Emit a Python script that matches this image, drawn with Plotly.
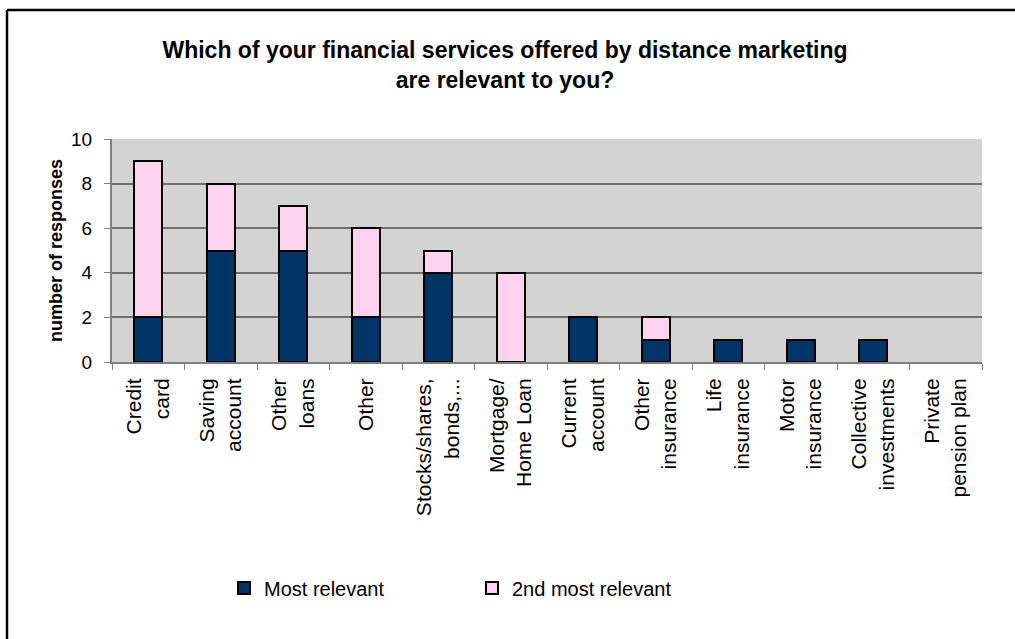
import plotly.graph_objects as go

categories = [
    "Credit<br>card", "Saving<br>account", "Other<br>loans", "Other",
    "Stocks/shares,<br>bonds,...", "Mortgage/<br>Home Loan", "Current<br>account",
    "Other<br>insurance", "Life<br>insurance", "Motor<br>insurance",
    "Collective<br>investments", "Private<br>pension plan",
]
most_relevant = [2, 5, 5, 2, 4, 0, 2, 1, 1, 1, 1, 0]
second_most_relevant = [7, 3, 2, 4, 1, 4, 0, 1, 0, 0, 0, 0]

FONT = "Liberation Sans, Arial, sans-serif"
NAVY = "#003366"
PINK = "#FFD2F0"


def outline(values):
    # empty segments get no outline
    return [2 if v else 0 for v in values]


fig = go.Figure()
fig.add_trace(go.Bar(
    x=categories, y=most_relevant, name="Most relevant",
    marker=dict(color=NAVY, line=dict(color="black", width=outline(most_relevant))),
))
fig.add_trace(go.Bar(
    x=categories, y=second_most_relevant, name="2nd most relevant",
    marker=dict(color=PINK, line=dict(color="black", width=outline(second_most_relevant))),
))

# plot area: x 112..982 px, y 139..362 px
L, R, T, B = 112, 982, 139, 362
W, H = R - L, B - T


def px_x(p):
    return (p - L) / W


def px_y(p):
    return (B - p) / H


fig.update_layout(
    width=1015, height=639,
    margin=dict(l=L, r=1015 - R, t=T, b=639 - B),
    barmode="stack", bargap=0.61,
    plot_bgcolor="#D3D3D3", paper_bgcolor="white",
    font=dict(family=FONT, color="black", size=18),
    title=dict(
        text="Which of your financial services offered by distance marketing<br>are relevant to you?",
        x=505 / 1015, xref="container", xanchor="center",
        y=1 - 58 / 639, yref="container", yanchor="middle",
        font=dict(family=FONT, size=23, color="black", weight="bold"),
    ),
    xaxis=dict(
        tickangle=-90, ticks="outside", tickson="boundaries", ticklen=6,
        tickcolor="#808080", showline=True, linecolor="#808080", linewidth=2,
        showgrid=False, tickfont=dict(size=21), ticklabelstandoff=6,
    ),
    yaxis=dict(
        range=[0, 10], dtick=2, ticks="outside", ticklen=6, tickcolor="#808080",
        showline=True, linecolor="#808080", linewidth=2,
        showgrid=True, gridcolor="#6E6E6E", gridwidth=1.5, zeroline=False,
        tickfont=dict(size=19), ticklabelstandoff=8,
        title=dict(text="<b>number of responses</b>", font=dict(size=18), standoff=4),
    ),
    legend=dict(
        orientation="h", x=px_x(224), xanchor="left",
        y=px_y(588), yanchor="middle",
        entrywidth=203, entrywidthmode="pixels",
        font=dict(size=20), traceorder="normal",
    ),
    showlegend=True,
)

# outer frame (top and left edges)
fig.add_shape(type="line", xref="paper", yref="paper",
              x0=px_x(7), x1=px_x(1016), y0=px_y(10), y1=px_y(10),
              line=dict(color="black", width=2.5))
fig.add_shape(type="line", xref="paper", yref="paper",
              x0=px_x(7), x1=px_x(7), y0=px_y(10), y1=px_y(640),
              line=dict(color="black", width=2.5))

fig.write_html("out.html")
